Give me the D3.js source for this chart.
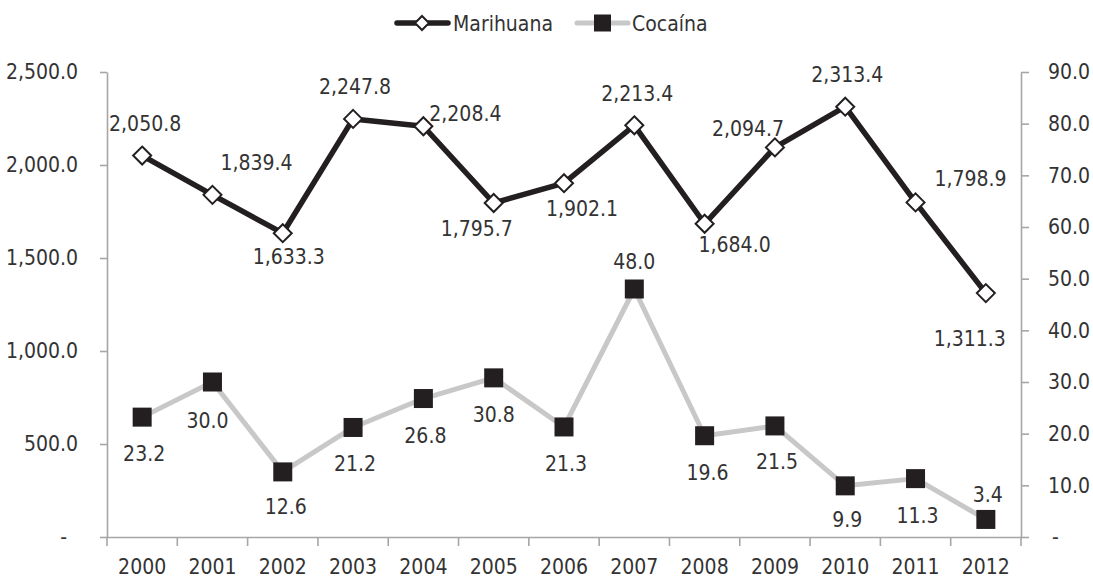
<!DOCTYPE html>
<html lang="es">
<head>
<meta charset="UTF-8">
<title>Marihuana y Cocaína 2000-2012</title>
<script src="https://d3js.org/d3.v7.min.js"></script>
<style>
  body { margin: 0; background: #fff; }
  svg text { font-family: "Liberation Sans Narrow", "Arial Narrow", "DejaVu Sans Condensed", sans-serif; fill: #333; }
</style>
</head>
<body>
<div id="chart"></div>
<script>
const years = ["2000", "2001", "2002", "2003", "2004", "2005", "2006", "2007", "2008", "2009", "2010", "2011", "2012"];
const marihuana = [2050.8, 1839.4, 1633.3, 2247.8, 2208.4, 1795.7, 1902.1, 2213.4, 1684.0, 2094.7, 2313.4, 1798.9, 1311.3];
const cocaina = [23.2, 30.0, 12.6, 21.2, 26.8, 30.8, 21.3, 48.0, 19.6, 21.5, 9.9, 11.3, 3.4];
const leftTicks = [0, 500, 1000, 1500, 2000, 2500];
const rightTicks = [0, 10, 20, 30, 40, 50, 60, 70, 80, 90];

// label placement relative to each point (dx, dy)
const marLabelOffset = [[3, -32], [44, -32], [6, 23], [2, -32], [42, -13], [-17, 25], [18, 25],
  [3, -32], [30, 21], [-27, -19], [2, -32], [55, -24], [-16, 45]];
const cocLabelOffset = [[2, 36], [-5, 38], [3, 35], [2, 36], [2, 37], [0, 37], [2, 36],
  [0, -28], [3, 37], [2, 36], [2, 34], [2, 37], [2, -25]];

const W = 1093, H = 582;
const margin = { top: 72, right: 72, bottom: 45, left: 107 };
const fontSize = 21;
const dark = "#231f20", grey = "#c8c8c8", axisCol = "#a6a6a6";

const svg = d3.select("#chart").append("svg")
  .attr("width", W).attr("height", H);

const x = d3.scaleBand().domain(years).range([margin.left, W - margin.right]);
const yL = d3.scaleLinear().domain([0, 2500]).range([H - margin.bottom, margin.top]);
const yR = d3.scaleLinear().domain([0, 90]).range([H - margin.bottom, margin.top]);
const cx = d => x(d) + x.bandwidth() / 2;

const fmt = d3.format(",.1f");
const tickFmt = d => d === 0 ? "-" : fmt(d);

// left axis
const gL = svg.append("g")
  .attr("transform", `translate(${margin.left},0)`)
  .call(d3.axisLeft(yL).tickValues(leftTicks).tickSize(7).tickSizeOuter(0).tickPadding(22).tickFormat(tickFmt));
gL.selectAll("text").filter(d => d === 0).attr("dx", -11);

// right axis
const gR = svg.append("g")
  .attr("transform", `translate(${W - margin.right},0)`)
  .call(d3.axisRight(yR).tickValues(rightTicks).tickSize(8).tickSizeOuter(0).tickPadding(19).tickFormat(tickFmt));
gR.selectAll("text").filter(d => d === 0).attr("dx", 4);

// bottom axis: labels centered in bands, ticks on band edges
const gB = svg.append("g")
  .attr("transform", `translate(0,${H - margin.bottom})`)
  .call(d3.axisBottom(x).tickSize(0).tickSizeOuter(0).tickPadding(22));
gB.selectAll(".tick line").remove();
gB.selectAll("line.edge")
  .data(years.concat(["end"]))
  .enter().append("line")
  .attr("class", "edge")
  .attr("x1", d => d === "end" ? x.range()[1] : x(d))
  .attr("x2", d => d === "end" ? x.range()[1] : x(d))
  .attr("y1", 0).attr("y2", 9);

svg.selectAll(".domain, .tick line, line.edge")
  .attr("stroke", axisCol).attr("stroke-width", 1.6);
svg.selectAll(".tick text").style("font-size", fontSize + "px").attr("fill", "#333");

// Cocaína line (right axis)
const lineC = d3.line().x((d, i) => cx(years[i])).y(d => yR(d));
svg.append("path").datum(cocaina)
  .attr("d", lineC)
  .attr("fill", "none").attr("stroke", grey).attr("stroke-width", 5).attr("stroke-linejoin", "round");

// Marihuana line (left axis)
const lineM = d3.line().x((d, i) => cx(years[i])).y(d => yL(d));
svg.append("path").datum(marihuana)
  .attr("d", lineM)
  .attr("fill", "none").attr("stroke", dark).attr("stroke-width", 5.5).attr("stroke-linejoin", "round");

const diamond = r => `M0,${-r}L${r},0L0,${r}L${-r},0Z`;

svg.selectAll("path.mar-pt")
  .data(marihuana).enter().append("path")
  .attr("class", "mar-pt")
  .attr("d", diamond(9))
  .attr("transform", (d, i) => `translate(${cx(years[i])},${yL(d)})`)
  .attr("fill", "#fff").attr("stroke", dark).attr("stroke-width", 2);

svg.selectAll("rect.coc-pt")
  .data(cocaina).enter().append("rect")
  .attr("class", "coc-pt")
  .attr("x", (d, i) => cx(years[i]) - 9.5)
  .attr("y", d => yR(d) - 9.5)
  .attr("width", 19).attr("height", 19)
  .attr("fill", dark);

// data labels
svg.selectAll("text.mar-lbl")
  .data(marihuana).enter().append("text")
  .attr("class", "mar-lbl")
  .attr("x", (d, i) => cx(years[i]) + marLabelOffset[i][0])
  .attr("y", (d, i) => yL(d) + marLabelOffset[i][1])
  .attr("dy", "0.36em")
  .attr("text-anchor", "middle")
  .style("font-size", fontSize + "px")
  .text(d => fmt(d));

svg.selectAll("text.coc-lbl")
  .data(cocaina).enter().append("text")
  .attr("class", "coc-lbl")
  .attr("x", (d, i) => cx(years[i]) + cocLabelOffset[i][0])
  .attr("y", (d, i) => yR(d) + cocLabelOffset[i][1])
  .attr("dy", "0.36em")
  .attr("text-anchor", "middle")
  .style("font-size", fontSize + "px")
  .text(d => fmt(d));

// legend
const leg = svg.append("g").attr("transform", "translate(0,23)");
leg.append("line").attr("x1", 397).attr("x2", 448).attr("y1", 0).attr("y2", 0)
  .attr("stroke", dark).attr("stroke-width", 5.5).attr("stroke-linecap", "round");
leg.append("path").attr("d", diamond(7)).attr("transform", "translate(422,0)")
  .attr("fill", "#fff").attr("stroke", dark).attr("stroke-width", 2);
leg.append("text").attr("x", 453).attr("y", 0).attr("dy", "0.36em")
  .style("font-size", fontSize + "px").text("Marihuana");

leg.append("line").attr("x1", 577).attr("x2", 628).attr("y1", 0).attr("y2", 0)
  .attr("stroke", grey).attr("stroke-width", 5).attr("stroke-linecap", "round");
leg.append("rect").attr("x", 594).attr("y", -8.5).attr("width", 17).attr("height", 17)
  .attr("fill", dark);
leg.append("text").attr("x", 632).attr("y", 0).attr("dy", "0.36em")
  .style("font-size", fontSize + "px").text("Cocaína");
</script>
</body>
</html>
